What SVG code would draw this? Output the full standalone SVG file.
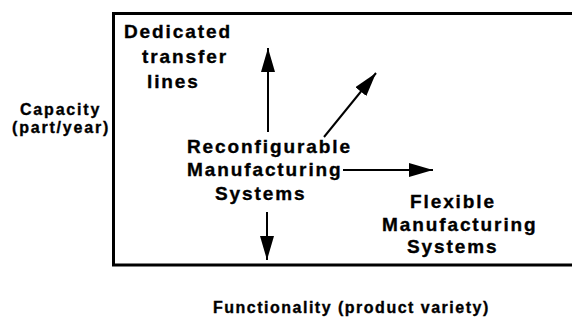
<svg xmlns="http://www.w3.org/2000/svg" width="572" height="320" viewBox="0 0 572 320">
<style>
text{font-family:"Liberation Sans",Arial,sans-serif;font-weight:bold;fill:#000;stroke:#000;stroke-width:0.35}
.m{font-size:19px;letter-spacing:1.9px}
.a{font-size:16px;letter-spacing:1.8px}
.f{font-size:16px;letter-spacing:1.5px}
.c{stroke:#000;stroke-width:2;fill:none}
</style>
<defs>
<marker id="ah" viewBox="0 0 24 14" refX="24" refY="7" markerWidth="24" markerHeight="14" markerUnits="userSpaceOnUse" orient="auto">
<path d="M0,0 L24,7 L0,14 z" fill="#000"/>
</marker>
</defs>
<rect width="572" height="320" fill="#fff"/>
<g id="frame"><path d="M575 13.5 H113.5 V265 H575" fill="none" stroke="#000" stroke-width="3"/></g>
<g id="y-axis-label">
<text class="a" x="20" y="115">Capacity</text>
<text class="a" x="12" y="133">(part/year)</text>
</g>
<g id="x-axis-label"><text class="f" x="213" y="313">Functionality (product variety)</text></g>
<g id="dedicated">
<text class="m" x="124" y="38">Dedicated</text>
<text class="m" x="142" y="63">transfer</text>
<text class="m" x="147" y="88">lines</text>
</g>
<g id="rms">
<text class="m" x="187" y="153">Reconfigurable</text>
<text class="m" x="187" y="176">Manufacturing</text>
<text class="m" x="215" y="200">Systems</text>
</g>
<g id="fms">
<text class="m" x="410" y="208">Flexible</text>
<text class="m" x="382" y="231">Manufacturing</text>
<text class="m" x="407" y="253">Systems</text>
</g>
<g id="connectors">
<line class="c" x1="268" y1="132" x2="268" y2="48" marker-end="url(#ah)"/>
<line class="c" x1="324" y1="137" x2="376" y2="73" marker-end="url(#ah)"/>
<line class="c" x1="343" y1="170" x2="433" y2="170" marker-end="url(#ah)"/>
<line class="c" x1="267" y1="212" x2="267" y2="260" marker-end="url(#ah)"/>
</g>
</svg>
